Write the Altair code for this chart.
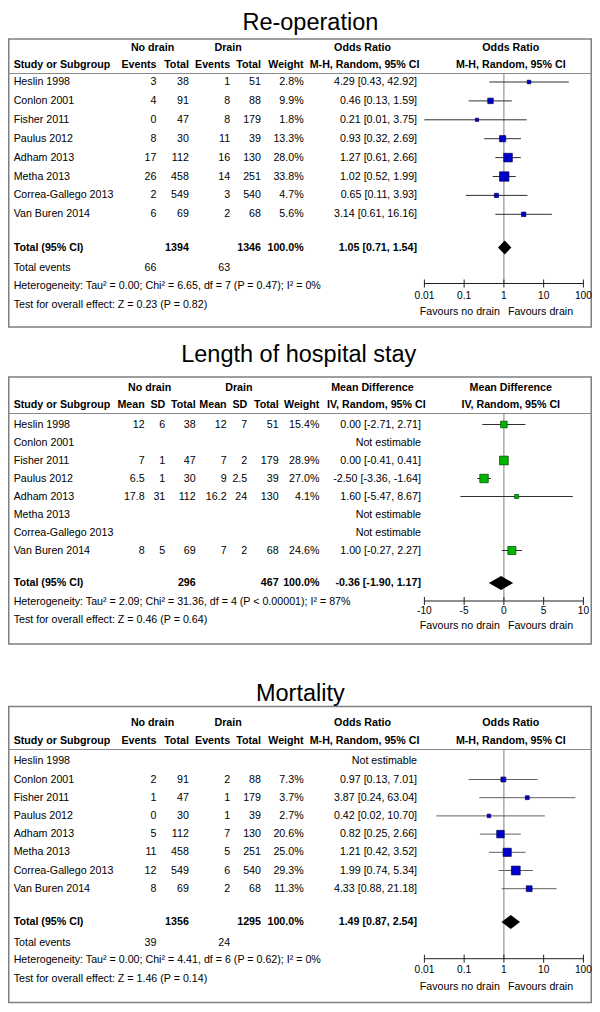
import altair as alt
import pandas as pd

# ---------------- data ----------------
STUDIES = ["Heslin 1998", "Conlon 2001", "Fisher 2011", "Paulus 2012",
           "Adham 2013", "Metha 2013", "Correa-Gallego 2013", "Van Buren 2014"]

# Re-operation (odds ratio)
REOP_EV_NODRAIN = [3, 4, 0, 8, 17, 26, 2, 6]
REOP_N_NODRAIN = [38, 91, 47, 30, 112, 458, 549, 69]
REOP_EV_DRAIN = [1, 8, 8, 11, 16, 14, 3, 2]
REOP_N_DRAIN = [51, 88, 179, 39, 130, 251, 540, 68]
REOP_WEIGHT = [2.8, 9.9, 1.8, 13.3, 28.0, 33.8, 4.7, 5.6]
REOP_OR = [4.29, 0.46, 0.21, 0.93, 1.27, 1.02, 0.65, 3.14]
REOP_LO = [0.43, 0.13, 0.01, 0.32, 0.61, 0.52, 0.11, 0.61]
REOP_HI = [42.92, 1.59, 3.75, 2.69, 2.66, 1.99, 3.93, 16.16]
REOP_TOTAL_N = [1394, 1346]
REOP_TOTAL_EVENTS = [66, 63]
REOP_POOLED = [1.05, 0.71, 1.54]
REOP_HET = "Heterogeneity: Tau\u00b2 = 0.00; Chi\u00b2 = 6.65, df = 7 (P = 0.47); I\u00b2 = 0%"
REOP_TEST = "Test for overall effect: Z = 0.23 (P = 0.82)"

# Length of hospital stay (mean difference)
LOS_MEAN_NODRAIN = [12, None, 7, 6.5, 17.8, None, None, 8]
LOS_SD_NODRAIN = [6, None, 1, 1, 31, None, None, 5]
LOS_N_NODRAIN = [38, None, 47, 30, 112, None, None, 69]
LOS_MEAN_DRAIN = [12, None, 7, 9, 16.2, None, None, 7]
LOS_SD_DRAIN = [7, None, 2, 2.5, 24, None, None, 2]
LOS_N_DRAIN = [51, None, 179, 39, 130, None, None, 68]
LOS_WEIGHT = [15.4, None, 28.9, 27.0, 4.1, None, None, 24.6]
LOS_MD = [0.00, None, 0.00, -2.50, 1.60, None, None, 1.00]
LOS_LO = [-2.71, None, -0.41, -3.36, -5.47, None, None, -0.27]
LOS_HI = [2.71, None, 0.41, -1.64, 8.67, None, None, 2.27]
LOS_TOTAL_N = [296, 467]
LOS_POOLED = [-0.36, -1.90, 1.17]
LOS_HET = "Heterogeneity: Tau\u00b2 = 2.09; Chi\u00b2 = 31.36, df = 4 (P < 0.00001); I\u00b2 = 87%"
LOS_TEST = "Test for overall effect: Z = 0.46 (P = 0.64)"

# Mortality (odds ratio)
MORT_EV_NODRAIN = [None, 2, 1, 0, 5, 11, 12, 8]
MORT_N_NODRAIN = [None, 91, 47, 30, 112, 458, 549, 69]
MORT_EV_DRAIN = [None, 2, 1, 1, 7, 5, 6, 2]
MORT_N_DRAIN = [None, 88, 179, 39, 130, 251, 540, 68]
MORT_WEIGHT = [None, 7.3, 3.7, 2.7, 20.6, 25.0, 29.3, 11.3]
MORT_OR = [None, 0.97, 3.87, 0.42, 0.82, 1.21, 1.99, 4.33]
MORT_LO = [None, 0.13, 0.24, 0.02, 0.25, 0.42, 0.74, 0.88]
MORT_HI = [None, 7.01, 63.04, 10.70, 2.66, 3.52, 5.34, 21.18]
MORT_TOTAL_N = [1356, 1295]
MORT_TOTAL_EVENTS = [39, 24]
MORT_POOLED = [1.49, 0.87, 2.54]
MORT_HET = "Heterogeneity: Tau\u00b2 = 0.00; Chi\u00b2 = 4.41, df = 6 (P = 0.62); I\u00b2 = 0%"
MORT_TEST = "Test for overall effect: Z = 1.46 (P = 0.14)"

OR_TICKS = [0.01, 0.1, 1, 10, 100]
OR_TICK_LABELS = ["0.01", "0.1", "1", "10", "100"]
MD_TICKS = [-10, -5, 0, 5, 10]
MD_TICK_LABELS = ["-10", "-5", "0", "5", "10"]

# ---------------- layout ----------------
FONT = "Liberation Sans"
CW, CH = 584, 996             # chart = page x 8..592, y 8..1004
BOX_L, BOX_R = 3.5, 597.0     # reference px
SX = (CW - 1.5) / (BOX_R - BOX_L)
RX0 = BOX_L - 0.75 / SX       # reference x shown at chart x = 0
FS = 10.9 * 0.98
TICK_FS = 10.2
TITLE_FS = 23.5
AX_L, AX_R = 427.0, 589.0
STUDY_X = 8.5

OR_COLS = dict(ev_nd=154, n_nd=187, ev_d=229, n_d=260.5, w=304, ci=419.5,
               g_nd=150, g_d=227, mid1=364, mid2=366, plot=515)
MD_COLS = dict(m_nd=142, sd_nd=163, n_nd=194, m_d=225.5, sd_d=246.5, n_d=278.5,
               w=320, ci=423.5, g_nd=147, g_d=238, mid1=374, mid2=378, plot=515)

# vertical positions in reference px; dy/tdy shift a panel/title to fit the page
L_REOP = dict(dy=5, tdy=10.5, tx=310.8, title=19, top=34, bottom=322, h1=42.5, h2=60,
              hline=68.5, row0=77, step=18.9, total=242.5, tev=263, het=281, test=299.5,
              axis=278.5, ticklab=291, fav=306.5)
L_LOS = dict(dy=0, tdy=0, tx=299, title=361.5, top=377, bottom=644, h1=387.5, h2=405,
             hline=413.5, row0=424.5, step=18.0, total=583, het=602, test=620,
             axis=601, ticklab=611, fav=626)
L_MORT = dict(dy=-8, tdy=-8, tx=300.6, title=708.5, top=714.5, bottom=1010.5, h1=731,
              h2=749.3, hline=757.5, row0=769.3, step=18.2, total=930, tev=950.7,
              het=968.3, test=986.7, axis=966.7, ticklab=978.3, fav=995)

PX_X = alt.Scale(domain=[RX0, RX0 + CW / SX], range=[0, CW], nice=False, zero=False)
PX_Y = alt.Scale(domain=[8, 8 + CH], range=[0, CH], nice=False, zero=False)
FOREST_RANGE = [(AX_L - RX0) * SX, (AX_R - RX0) * SX]
LOG_X = alt.Scale(type="log", domain=[OR_TICKS[0], OR_TICKS[-1]], range=FOREST_RANGE, nice=False)
LIN_X = alt.Scale(domain=[MD_TICKS[0], MD_TICKS[-1]], range=FOREST_RANGE, nice=False, zero=False)
SIZE = alt.Scale(domain=[0, 100], range=[6, 250])

texts = []
titles = []
boxes = []
hlines = []


def Y(L, key, extra=0.0):
    return L[key] + L["dy"] + extra


def T(x, y, s, align="left", bold=False):
    texts.append(dict(x=x, y=y, text=str(s), align=align, bold=bold))


def fnum(v):
    return f"{v:g}"


def fci(e, l, h):
    return f"{e:.2f} [{l:.2f}, {h:.2f}]"


def row_y(L, i):
    return L["row0"] + L["step"] * i + L["dy"]


def table_common(L, title, cols, mid1, mid2):
    titles.append(dict(x=L["tx"], y=L["title"] + L["tdy"], text=title))
    boxes.append(dict(x=BOX_L, x2=BOX_R, y=Y(L, "top"), y2=Y(L, "bottom")))
    hlines.append(dict(x=BOX_L, x2=BOX_R, y=Y(L, "hline")))
    T(cols["g_nd"], Y(L, "h1"), "No drain", "center", True)
    T(cols["g_d"], Y(L, "h1"), "Drain", "center", True)
    T(cols["mid1"], Y(L, "h1"), mid1, "center", True)
    T(cols["plot"], Y(L, "h1"), mid1, "center", True)
    T(STUDY_X, Y(L, "h2"), "Study or Subgroup", "left", True)
    T(cols["w"], Y(L, "h2"), "Weight", "right", True)
    T(cols["mid2"], Y(L, "h2"), mid2, "center", True)
    T(cols["plot"], Y(L, "h2"), mid2, "center", True)


def or_table(L, title, ev_nd, n_nd, ev_d, n_d, w, est, lo, hi, tn, tev, pooled, het, test):
    c = OR_COLS
    table_common(L, title, c, "Odds Ratio", "M-H, Random, 95% CI")
    for lab, key in [("Events", "ev_nd"), ("Total", "n_nd"), ("Events", "ev_d"), ("Total", "n_d")]:
        T(c[key], Y(L, "h2"), lab, "right", True)
    for i, name in enumerate(STUDIES):
        y = row_y(L, i)
        T(STUDY_X, y, name)
        if est[i] is None:
            T(c["ci"], y, "Not estimable", "right")
            continue
        T(c["ev_nd"], y, ev_nd[i], "right")
        T(c["n_nd"], y, n_nd[i], "right")
        T(c["ev_d"], y, ev_d[i], "right")
        T(c["n_d"], y, n_d[i], "right")
        T(c["w"], y, f"{w[i]:.1f}%", "right")
        T(c["ci"], y, fci(est[i], lo[i], hi[i]), "right")
    yt = Y(L, "total")
    T(STUDY_X, yt, "Total (95% CI)", "left", True)
    T(c["n_nd"], yt, tn[0], "right", True)
    T(c["n_d"], yt, tn[1], "right", True)
    T(c["w"], yt, "100.0%", "right", True)
    T(c["ci"], yt, fci(*pooled), "right", True)
    T(STUDY_X, Y(L, "tev"), "Total events")
    T(c["ev_nd"], Y(L, "tev"), tev[0], "right")
    T(c["ev_d"], Y(L, "tev"), tev[1], "right")
    T(STUDY_X, Y(L, "het"), het)
    T(STUDY_X, Y(L, "test"), test)


def md_table(L, title, m_nd, sd_nd, n_nd, m_d, sd_d, n_d, w, est, lo, hi, tn, pooled, het, test):
    c = MD_COLS
    table_common(L, title, c, "Mean Difference", "IV, Random, 95% CI")
    for lab, key in [("Mean", "m_nd"), ("SD", "sd_nd"), ("Total", "n_nd"),
                     ("Mean", "m_d"), ("SD", "sd_d"), ("Total", "n_d")]:
        T(c[key], Y(L, "h2"), lab, "right", True)
    for i, name in enumerate(STUDIES):
        y = row_y(L, i)
        T(STUDY_X, y, name)
        if est[i] is None:
            T(c["ci"], y, "Not estimable", "right")
            continue
        T(c["m_nd"], y, fnum(m_nd[i]), "right")
        T(c["sd_nd"], y, fnum(sd_nd[i]), "right")
        T(c["n_nd"], y, n_nd[i], "right")
        T(c["m_d"], y, fnum(m_d[i]), "right")
        T(c["sd_d"], y, fnum(sd_d[i]), "right")
        T(c["n_d"], y, n_d[i], "right")
        T(c["w"], y, f"{w[i]:.1f}%", "right")
        T(c["ci"], y, fci(est[i], lo[i], hi[i]), "right")
    yt = Y(L, "total")
    T(STUDY_X, yt, "Total (95% CI)", "left", True)
    T(c["n_nd"], yt, tn[0], "right", True)
    T(c["n_d"], yt, tn[1], "right", True)
    T(c["w"], yt, "100.0%", "right", True)
    T(c["ci"], yt, fci(*pooled), "right", True)
    T(STUDY_X, Y(L, "het"), het)
    T(STUDY_X, Y(L, "test"), test)


def Yp(f):
    return alt.Y(f"{f}:Q", scale=PX_Y, axis=None)


def forest(L, scale, est, lo, hi, w, pooled, ticks, tick_labels, null, fill, stroke, ci_color):
    rows = [i for i in range(len(STUDIES)) if est[i] is not None]
    ys = [row_y(L, i) for i in rows]
    sq = pd.DataFrame({"val": [est[i] for i in rows], "y": ys, "weight": [w[i] for i in rows]})
    ci = pd.DataFrame({"lo": [lo[i] for i in rows], "hi": [hi[i] for i in rows], "y": ys})
    yc = Y(L, "total")
    dia = pd.DataFrame({"val": [pooled[1], pooled[0], pooled[2]],
                        "y": [yc, yc - 7, yc], "y2": [yc, yc + 7, yc]})
    ya = Y(L, "axis")
    nl = pd.DataFrame({"val": [null], "y": [Y(L, "hline")], "y2": [ya]})
    ax = pd.DataFrame({"lo": [ticks[0]], "hi": [ticks[-1]], "y": [ya]})
    tk = pd.DataFrame({"val": ticks, "y": [ya - 4] * len(ticks),
                       "y2": [ya + 4] * len(ticks), "label": tick_labels,
                       "ly": [Y(L, "ticklab")] * len(ticks)})
    fav = pd.DataFrame({"val": [null], "y": [Y(L, "fav")],
                        "left": ["Favours no drain"], "right": ["Favours drain"]})

    def X(f):
        return alt.X(f"{f}:Q", scale=scale, axis=None)

    return [
        alt.Chart(nl).mark_rule(color="#808080", strokeWidth=1).encode(x=X("val"), y=Yp("y"), y2="y2:Q"),
        alt.Chart(ci).mark_rule(color=ci_color, strokeWidth=1).encode(x=X("lo"), x2="hi:Q", y=Yp("y")),
        alt.Chart(sq).mark_square(filled=True, opacity=1, fill=fill, stroke=stroke, strokeWidth=0.7).encode(
            x=X("val"), y=Yp("y"), size=alt.Size("weight:Q", scale=SIZE, legend=None)),
        alt.Chart(dia).mark_area(color="black", orient="vertical").encode(x=X("val"), y=Yp("y"), y2="y2:Q"),
        alt.Chart(ax).mark_rule(color="#202020", strokeWidth=1).encode(x=X("lo"), x2="hi:Q", y=Yp("y")),
        alt.Chart(tk).mark_rule(color="#202020", strokeWidth=1).encode(x=X("val"), y=Yp("y"), y2="y2:Q"),
        alt.Chart(tk).mark_text(font=FONT, fontSize=TICK_FS, align="center", baseline="middle",
                                color="black").encode(x=X("val"), y=Yp("ly"), text="label:N"),
        alt.Chart(fav).mark_text(font=FONT, fontSize=FS, align="right", baseline="middle", dx=-4,
                                 color="black").encode(x=X("val"), y=Yp("y"), text="left:N"),
        alt.Chart(fav).mark_text(font=FONT, fontSize=FS, align="left", baseline="middle", dx=4,
                                 color="black").encode(x=X("val"), y=Yp("y"), text="right:N"),
    ]


or_table(L_REOP, "Re-operation", REOP_EV_NODRAIN, REOP_N_NODRAIN, REOP_EV_DRAIN, REOP_N_DRAIN,
         REOP_WEIGHT, REOP_OR, REOP_LO, REOP_HI, REOP_TOTAL_N, REOP_TOTAL_EVENTS, REOP_POOLED,
         REOP_HET, REOP_TEST)
md_table(L_LOS, "Length of hospital stay", LOS_MEAN_NODRAIN, LOS_SD_NODRAIN, LOS_N_NODRAIN,
         LOS_MEAN_DRAIN, LOS_SD_DRAIN, LOS_N_DRAIN, LOS_WEIGHT, LOS_MD, LOS_LO, LOS_HI,
         LOS_TOTAL_N, LOS_POOLED, LOS_HET, LOS_TEST)
or_table(L_MORT, "Mortality", MORT_EV_NODRAIN, MORT_N_NODRAIN, MORT_EV_DRAIN, MORT_N_DRAIN,
         MORT_WEIGHT, MORT_OR, MORT_LO, MORT_HI, MORT_TOTAL_N, MORT_TOTAL_EVENTS, MORT_POOLED,
         MORT_HET, MORT_TEST)

BLUE_FILL, BLUE_STROKE = "#0000c8", "#000060"
GREEN_FILL, GREEN_STROKE = "#00b400", "#004000"

log_layers = (forest(L_REOP, LOG_X, REOP_OR, REOP_LO, REOP_HI, REOP_WEIGHT, REOP_POOLED,
                     OR_TICKS, OR_TICK_LABELS, 1, BLUE_FILL, BLUE_STROKE, "#303030")
              + forest(L_MORT, LOG_X, MORT_OR, MORT_LO, MORT_HI, MORT_WEIGHT, MORT_POOLED,
                       OR_TICKS, OR_TICK_LABELS, 1, BLUE_FILL, BLUE_STROKE, "#606060"))
lin_layers = forest(L_LOS, LIN_X, LOS_MD, LOS_LO, LOS_HI, LOS_WEIGHT, LOS_POOLED,
                    MD_TICKS, MD_TICK_LABELS, 0, GREEN_FILL, GREEN_STROKE, "#303030")

tdf = pd.DataFrame(texts)


def Xp(f):
    return alt.X(f"{f}:Q", scale=PX_X, axis=None)


table_layers = [
    alt.Chart(pd.DataFrame(boxes)).mark_rect(fillOpacity=0, stroke="#7f7f7f", strokeWidth=1.5).encode(
        x=Xp("x"), x2="x2:Q", y=Yp("y"), y2="y2:Q"),
    alt.Chart(pd.DataFrame(hlines)).mark_rule(color="#8a8a8a", strokeWidth=1).encode(
        x=Xp("x"), x2="x2:Q", y=Yp("y")),
    alt.Chart(pd.DataFrame(titles)).mark_text(font=FONT, fontSize=TITLE_FS, align="center",
                                              baseline="alphabetic", color="black").encode(
        x=Xp("x"), y=Yp("y"), text="text:N"),
]
for align in ["left", "center", "right"]:
    for bold in [False, True]:
        sub = tdf[(tdf["align"] == align) & (tdf["bold"] == bold)]
        if len(sub) == 0:
            continue
        table_layers.append(
            alt.Chart(sub[["x", "y", "text"]]).mark_text(
                font=FONT, fontSize=FS, align=align, baseline="middle", color="black",
                fontWeight="bold" if bold else "normal").encode(
                x=Xp("x"), y=Yp("y"), text="text:N"))

chart = alt.layer(
    alt.layer(*table_layers),
    alt.layer(*log_layers),
    alt.layer(*lin_layers),
).resolve_scale(x="independent").properties(
    width=CW, height=CH, padding=0, autosize="none"
).configure_view(strokeWidth=0)

chart.save("out.html", embed_options={"renderer": "svg", "actions": False})
